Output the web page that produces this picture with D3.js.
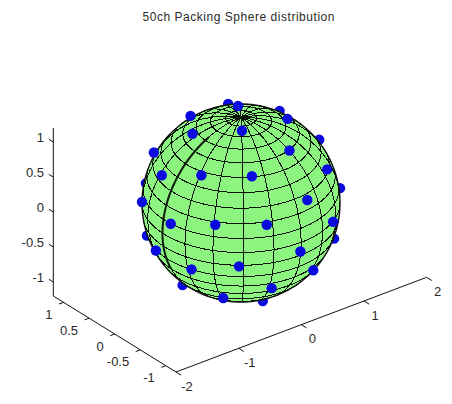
<!DOCTYPE html>
<html><head><meta charset="utf-8">
<style>html,body{margin:0;background:#fff}svg{display:block}text{font-family:"Liberation Sans",Arial,sans-serif;fill:#2a2a2a;font-size:13px}</style>
<script src="https://cdnjs.cloudflare.com/ajax/libs/d3/7.8.5/d3.min.js"></script>
</head><body><svg id="c" width="452" height="404"></svg>
<script>
const titleText = "50ch Packing Sphere distribution";
const xTicks = [-2,-1,0,1,2];
const yTicks = [1,0.5,0,-0.5,-1];
const zTicks = [1,0.5,0,-0.5,-1];
const viewAzimuth = -37.5, viewElevation = 30;
const meridianStep = 18, parallelStep = 9;
// Sensor positions on the unit sphere in the view plane (right, up)
const frontRight = [-0.03,0.47,-0.51,-0.49,0.01,0.49,-0.88,0.87,-0.80,-0.40,0.11,0.67,-1.00,0.93,-0.71,-0.26,0.26,-0.86,0.60,-0.02,-0.50,0.73,0.31,-0.18];
const frontUp    = [0.98,0.85,0.88,0.70,0.73,0.53,0.51,0.34,0.28,0.28,0.27,0.03,0.01,-0.19,-0.21,-0.22,-0.22,-0.48,-0.49,-0.64,-0.67,-0.68,-0.86,-0.96];
const backRight  = [-0.13,0.39,0.79,1.00,-0.96,0.94,-0.95,-0.59,0.22];
const backUp     = [1.00,0.93,0.64,0.15,0.20,-0.36,-0.33,-0.83,-0.99];

const svg = d3.select("#c");
const xS = d3.scaleLinear().domain([-2,2]).range([[176,372],[426.7,277.3]]);
const yS = d3.scaleLinear().domain([-1.2,1.2]).range([[176,372],[53.3,296]]);
const zS = d3.scaleLinear().domain([-1.2,1.2]).range([[53.3,296],[53.3,128]]);
const cx = 241, cy = 203, R = 99;
const uS = d3.scaleLinear().domain([-1,1]).range([cx-R,cx+R]);
const vS = d3.scaleLinear().domain([-1,1]).range([cy+R,cy-R]);

svg.append("text").attr("x",238.5).attr("y",21).attr("text-anchor","middle").style("font-size","12px").attr("textLength",192).text(titleText);

const line = d3.line();
const axisG = svg.append("g").attr("fill","none").attr("stroke","#111").attr("stroke-width",1);
function axis(scale, domain, ticks, vec, o){
  axisG.append("path").attr("d",line([[...scale(domain[0])],[...scale(domain[1])]]));
  ticks.forEach(t=>{
    const p=[...scale(t)];
    axisG.append("path").attr("d",line([p,[p[0]+vec[0],p[1]+vec[1]]]));
    svg.append("text").attr("x",p[0]+o[0]).attr("y",p[1]+o[1]).attr("dy","0.35em").attr("text-anchor",o[2]).text(t);
  });
}
axis(xS,[-2,2],xTicks,[5.1,3.2],[11,14,"middle"]);
axis(yS,[-1.2,1.2],yTicks,[-4.5,1.7],[-11,12,"end"]);
axis(zS,[-1.2,1.2],zTicks,[-4.4,-2.7],[-9.3,-5,"end"]);

const dots = (us,vs)=>svg.append("g").attr("fill","#0a0adf").selectAll("circle").data(d3.zip(us,vs)).join("circle")
  .attr("cx",d=>uS(d[0])).attr("cy",d=>vS(d[1])).attr("r",5.2);
dots(backRight,backUp);

const proj = d3.geoOrthographic().scale(R).translate([cx,cy]).rotate([-(viewAzimuth-90),-viewElevation,0]).clipAngle(90).precision(0.3);
const path = d3.geoPath(proj);
svg.append("path").datum({type:"Sphere"}).attr("d",path).attr("fill","#8cf57f").attr("stroke","#111").attr("stroke-width",1.4);
const grat = d3.geoGraticule().extent([[-180,-90],[180,90]]).step([meridianStep,parallelStep]);
svg.append("path").datum(grat()).attr("d",path).attr("fill","none").attr("stroke","#0a120a").attr("stroke-width",1).attr("shape-rendering","crispEdges");
svg.append("path").datum({type:"LineString",coordinates:d3.range(-27,67,3).map(l=>[179.99,l])}).attr("d",path).attr("fill","none").attr("stroke","#0d1a0d").attr("stroke-width",2);
dots(frontRight,frontUp);
</script></body></html>
